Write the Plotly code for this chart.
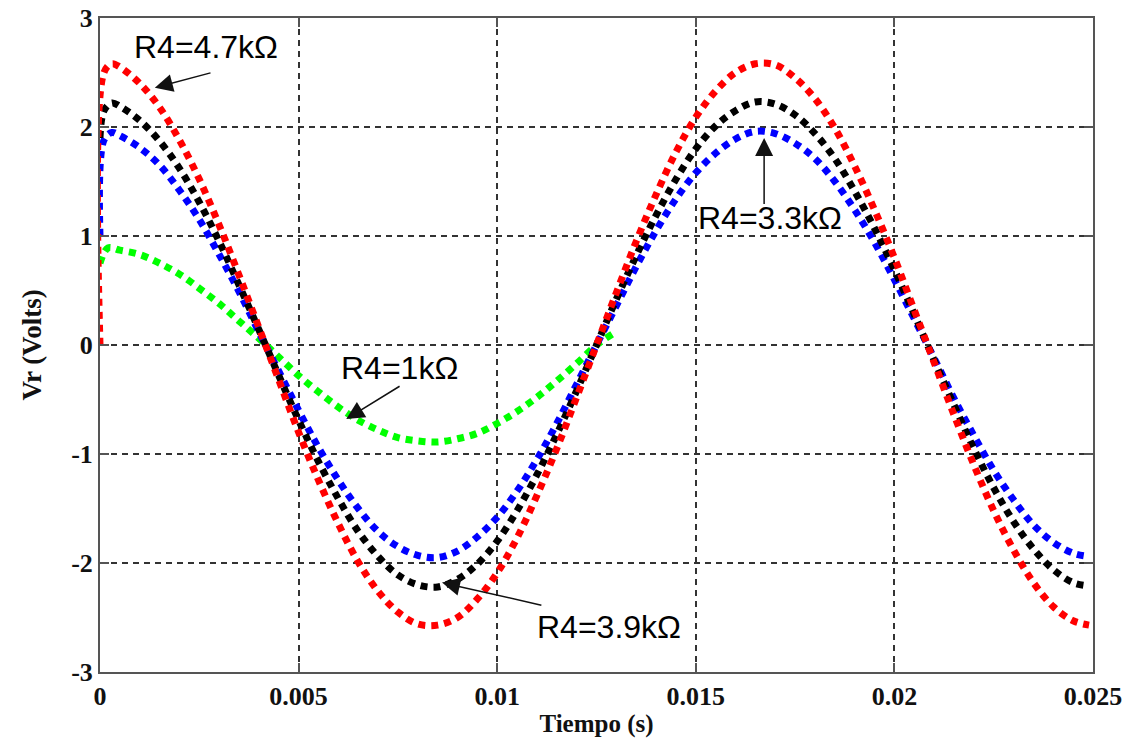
import plotly.graph_objects as go

# Time axis (s) shared by the three full-length curves
tiempo = [0, 0.0001, 0.0003, 0.0005, 0.001, 0.0015, 0.002, 0.0025, 0.003, 0.0035, 0.004,
          0.0045, 0.005, 0.0055, 0.006, 0.0065, 0.007, 0.0075, 0.008, 0.0085, 0.009,
          0.0095, 0.01, 0.0105, 0.011, 0.0115, 0.012, 0.0125, 0.013, 0.0135, 0.014,
          0.0145, 0.015, 0.0155, 0.016, 0.0165, 0.017, 0.0175, 0.018, 0.0185, 0.019,
          0.0195, 0.02, 0.0205, 0.021, 0.0215, 0.022, 0.0225, 0.023, 0.0235, 0.024,
          0.0245, 0.0249]

vr_47k = [0.00, 2.50, 2.58, 2.55, 2.40, 2.18, 1.88, 1.52, 1.10, 0.64, 0.16,
          -0.32, -0.80, -1.24, -1.64, -1.99, -2.26, -2.45, -2.56, -2.57, -2.50,
          -2.33, -2.09, -1.77, -1.38, -0.95, -0.48, 0.00, 0.48, 0.95, 1.38,
          1.77, 2.09, 2.33, 2.50, 2.58, 2.57, 2.45, 2.26, 1.99, 1.64,
          1.24, 0.80, 0.32, -0.16, -0.64, -1.10, -1.52, -1.88, -2.18, -2.40,
          -2.53, -2.57]

vr_39k = [1.90, 2.15, 2.22, 2.19, 2.06, 1.87, 1.62, 1.31, 0.95, 0.55, 0.14,
          -0.28, -0.69, -1.07, -1.41, -1.71, -1.94, -2.11, -2.20, -2.22, -2.15,
          -2.01, -1.80, -1.52, -1.19, -0.82, -0.42, 0.00, 0.42, 0.82, 1.19,
          1.52, 1.80, 2.01, 2.15, 2.23, 2.21, 2.11, 1.94, 1.71, 1.41,
          1.07, 0.69, 0.28, -0.14, -0.55, -0.95, -1.31, -1.62, -1.87, -2.06,
          -2.18, -2.21]

vr_33k = [1.00, 1.88, 1.95, 1.92, 1.81, 1.65, 1.42, 1.15, 0.83, 0.49, 0.12,
          -0.24, -0.60, -0.94, -1.24, -1.50, -1.71, -1.85, -1.93, -1.95, -1.89,
          -1.76, -1.58, -1.34, -1.05, -0.72, -0.36, 0.00, 0.36, 0.72, 1.05,
          1.34, 1.58, 1.76, 1.89, 1.96, 1.94, 1.85, 1.71, 1.50, 1.24,
          0.94, 0.60, 0.24, -0.12, -0.49, -0.83, -1.15, -1.42, -1.65, -1.81,
          -1.91, -1.94]

# The 1 kOhm curve is only shown up to ~0.013 s
tiempo_1k = [0, 0.0002, 0.0005, 0.001, 0.0015, 0.002, 0.0025, 0.003, 0.0035, 0.004,
             0.0045, 0.005, 0.0055, 0.006, 0.0065, 0.007, 0.0075, 0.008, 0.0085, 0.009,
             0.0095, 0.01, 0.0105, 0.011, 0.0115, 0.012, 0.0125, 0.0129]
vr_1k = [0.75, 0.89, 0.87, 0.83, 0.75, 0.65, 0.52, 0.38, 0.22, 0.06,
         -0.11, -0.28, -0.43, -0.57, -0.69, -0.78, -0.85, -0.88, -0.89, -0.86,
         -0.81, -0.72, -0.61, -0.48, -0.33, -0.17, 0.00, 0.10]

x_ticks = [0, 0.005, 0.01, 0.015, 0.02, 0.025]
x_tick_labels = ["0", "0.005", "0.01", "0.015", "0.02", "0.025"]
y_ticks = [-3, -2, -1, 0, 1, 2, 3]
y_tick_labels = ["-3", "-2", "-1", "0", "1", "2", "3"]

series = [
    ("R4=1kΩ", tiempo_1k, vr_1k, "#00ff00"),
    ("R4=3.3kΩ", tiempo, vr_33k, "#0000ff"),
    ("R4=3.9kΩ", tiempo, vr_39k, "#000000"),
    ("R4=4.7kΩ", tiempo, vr_47k, "#ff0000"),
]

fig = go.Figure()
for name, xs, ys, col in series:
    fig.add_trace(go.Scatter(x=xs, y=ys, mode="lines", name=name,
                             line=dict(color=col, width=7, dash="7px,6px", shape="spline"),
                             showlegend=False))

# Label annotations: (text, text_x, text_y, arrow_tail_x, arrow_tail_y, head_x, head_y)
labels = [
    ("R4=4.7kΩ", 0.00268, 2.73, 0.00282, 2.50, 0.00138, 2.36),
    ("R4=1kΩ", 0.00755, -0.21, 0.00758, -0.37, 0.00620, -0.68),
    ("R4=3.9kΩ", 0.01281, -2.59, 0.01115, -2.39, 0.00861, -2.18),
    ("R4=3.3kΩ", 0.01687, 1.165, 0.01672, 1.28, 0.01672, 1.90),
]
for txt, tx, ty, ax, ay, hx, hy in labels:
    fig.add_annotation(x=tx, y=ty, text=txt, showarrow=False,
                       font=dict(family="Liberation Sans, Arial", size=32, color="#000"))
    fig.add_annotation(x=hx, y=hy, ax=ax, ay=ay, axref="x", ayref="y", text="",
                       showarrow=True, arrowhead=2, arrowsize=2.4, arrowwidth=1.5,
                       arrowcolor="#111")

axis_common = dict(showgrid=True, gridcolor="#333", gridwidth=2, griddash="6px,5px",
                   zeroline=False, showline=True, linecolor="#555", linewidth=2,
                   mirror="ticks", ticks="inside", ticklen=9, tickcolor="#555", tickwidth=2,
                   automargin=False, ticklabeloverflow="allow",
                   tickfont=dict(family="Liberation Serif, Times New Roman", size=26,
                                 color="#111", weight="bold"))

fig.update_xaxes(range=[0, 0.025], tickvals=x_ticks, ticktext=x_tick_labels,
                 title=dict(text="<b>Tiempo (s)</b>", standoff=4,
                            font=dict(family="Liberation Serif, Times New Roman", size=25, color="#111")),
                 **axis_common)
fig.update_yaxes(range=[-3, 3], tickvals=y_ticks, ticktext=y_tick_labels,
                 title=dict(text="<b>Vr (Volts)</b>", standoff=22,
                            font=dict(family="Liberation Serif, Times New Roman", size=27, color="#111")),
                 **axis_common)

fig.update_layout(width=1136, height=748, plot_bgcolor="white", paper_bgcolor="white",
                  margin=dict(l=100, r=43, t=18, b=76))

# remove the browser's default 8px body margin so the figure sits at the page origin
fig.write_html("out.html", config={"displayModeBar": False},
               post_script="document.body.style.margin='0';")
